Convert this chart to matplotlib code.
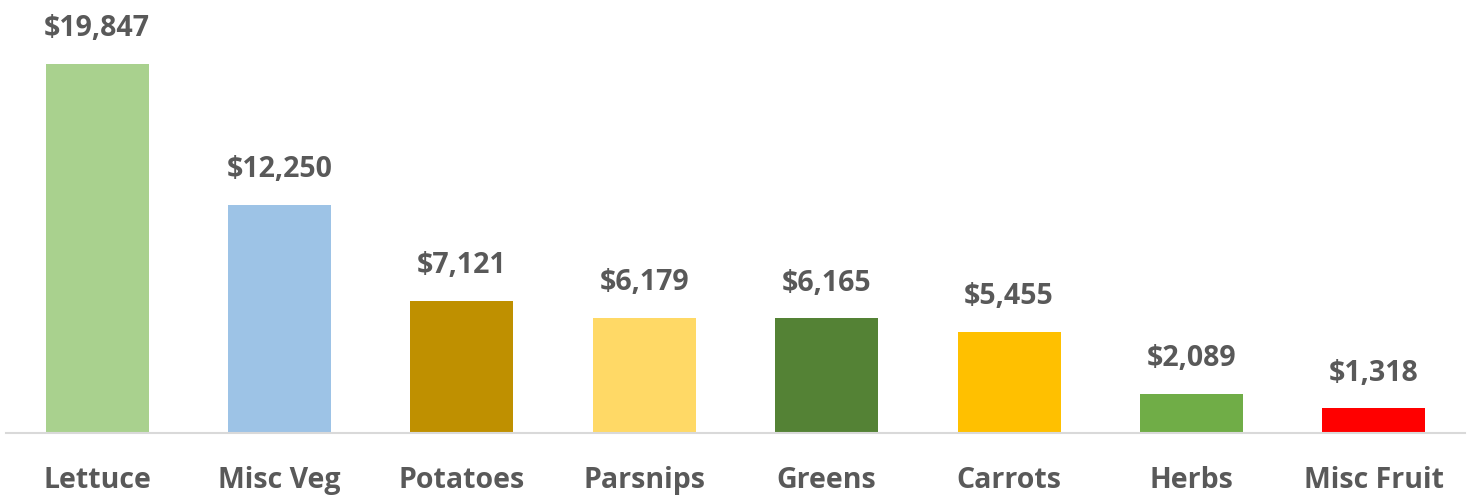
import matplotlib.pyplot as plt

categories = ['Lettuce', 'Misc Veg', 'Potatoes', 'Parsnips', 'Greens', 'Carrots', 'Herbs', 'Misc Fruit']
values = [19847, 12250, 7121, 6179, 6165, 5455, 2089, 1318]
colors = ['#A9D18E', '#9DC3E6', '#BF9000', '#FFD966', '#548235', '#FFC000', '#70AD47', '#FF0000']

plt.rcParams['font.family'] = ['Open Sans', 'DejaVu Sans']
txt = '#595959'

fig = plt.figure(figsize=(14.73, 4.97), dpi=100)
ax = fig.add_axes([6 / 1473, 64 / 497, 1459 / 1473, 433 / 497])

x = range(len(categories))
bars = ax.bar(x, values, width=0.565, color=colors)
for b, v in zip(bars, values):
    ax.annotate('${:,}'.format(v), (b.get_x() + b.get_width() / 2, v),
                xytext=(0, 15), textcoords='offset points',
                ha='center', va='bottom', fontsize=20.5, fontweight='bold', color=txt)

ax.set_xlim(-0.5, len(categories) - 0.5)
ax.set_ylim(0, 23290)
ax.set_xticks(list(x))
ax.set_xticklabels(categories, fontsize=20.5, fontweight='bold', color=txt)
ax.tick_params(axis='x', length=0, pad=24)
ax.set_yticks([])
for s in ['top', 'right', 'left']:
    ax.spines[s].set_visible(False)
ax.spines['bottom'].set_color('#D9D9D9')
ax.spines['bottom'].set_linewidth(1.5)

fig.savefig('out.png', dpi=100)
